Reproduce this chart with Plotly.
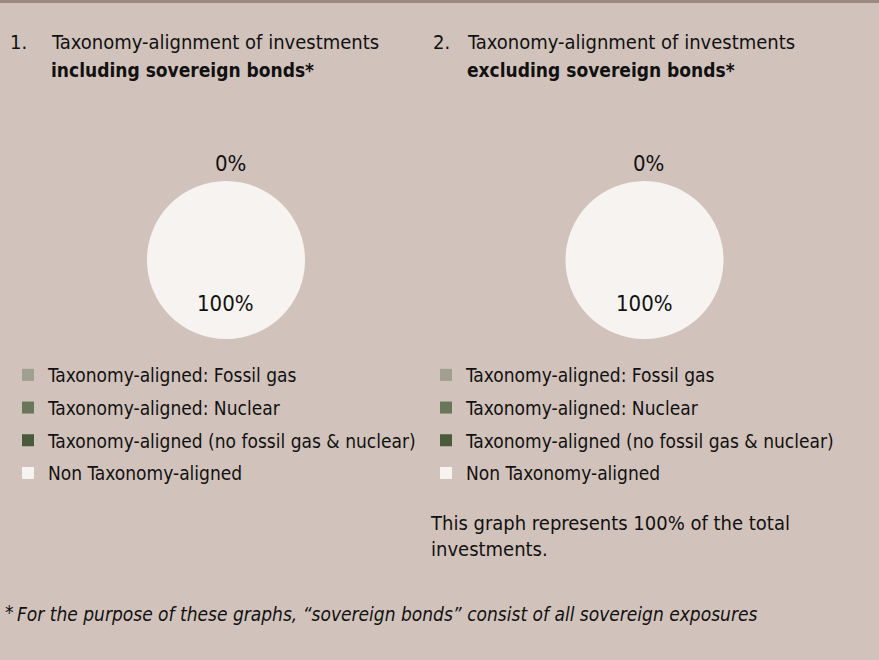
import plotly.graph_objects as go

W, H = 879, 660

# ---------------- data ----------------
categories = [
    "Taxonomy-aligned: Fossil gas",
    "Taxonomy-aligned: Nuclear",
    "Taxonomy-aligned (no fossil gas & nuclear)",
    "Non Taxonomy-aligned",
]
incl_values = [0, 0, 0, 100]   # including sovereign bonds
excl_values = [0, 0, 0, 100]   # excluding sovereign bonds
colors = ["#A09F90", "#6A765A", "#4A5A3A", "#F6F3F0"]

titles_line1 = ["Taxonomy-alignment of investments", "Taxonomy-alignment of investments"]
titles_line2 = ["including sovereign bonds*", "excluding sovereign bonds*"]
note_text = "This graph represents 100% of the total<br>investments."
footnote = "For the purpose of these graphs, \u201csovereign bonds\u201d consist of all sovereign exposures"

FONT = "Liberation Sans Narrow, Arial Narrow, DejaVu Sans Condensed, Roboto, sans-serif"
BG = "#D1C3BB"
TXT = "#111111"


def px(x):
    return x / W


def py(y):
    return 1 - y / H


fig = go.Figure()

# pies: (centre x px, centre y px, radius px)
pie_geo = [(226, 260, 79), (644.5, 260, 79)]
for i, (vals, (cx, cy, r)) in enumerate(zip([incl_values, excl_values], pie_geo)):
    fig.add_trace(go.Pie(
        labels=categories, values=vals, sort=False, direction="clockwise",
        marker=dict(colors=colors, line=dict(width=0)),
        textinfo="none", showlegend=False, hole=0,
        domain=dict(x=[px(cx - r), px(cx + r)], y=[py(cy + r), py(cy - r)]),
        name="incl" if i == 0 else "excl",
    ))
    aligned = sum(vals[:3])
    non = vals[3]
    fig.add_annotation(x=px(cx + 4), y=py(cy - r - 18), xref="paper", yref="paper",
                       xanchor="center", yanchor="middle",
                       text=f"{aligned:g}%", showarrow=False,
                       font=dict(family=FONT, size=22, color=TXT))
    fig.add_annotation(x=px(cx), y=py(cy + 43), xref="paper", yref="paper",
                       xanchor="center", yanchor="middle",
                       text=f"{non:g}%", showarrow=False,
                       font=dict(family=FONT, size=22, color=TXT))

# legends via dummy traces (one group per entry for spacing control)
legend_names = ["legend", "legend2"]
for li, lg in enumerate(legend_names):
    for k, (cat, col) in enumerate(zip(categories, colors)):
        fig.add_trace(go.Scatter(
            x=[None], y=[None], mode="markers", name=cat,
            marker=dict(symbol="square", size=12, color=col, line=dict(width=0)),
            legend=lg, legendgroup=f"{lg}_{k}", showlegend=True,
            hoverinfo="skip",
        ))

legend_common = dict(
    bgcolor="rgba(0,0,0,0)", borderwidth=0,
    font=dict(family=FONT, size=19, color=TXT),
    tracegroupgap=5, itemsizing="trace",
    xanchor="left", yanchor="top", orientation="v",
)
fig.update_layout(
    legend=dict(x=px(8), y=py(356), **legend_common),
    legend2=dict(x=px(426), y=py(356), **legend_common),
)

# titles
col_x = [(8, 49), (431, 465)]
for i, (nx, tx) in enumerate(col_x):
    fig.add_annotation(x=px(nx), y=py(42), xref="paper", yref="paper",
                       xanchor="left", yanchor="middle",
                       text=f"{i + 1}.", showarrow=False,
                       font=dict(family=FONT, size=20, color=TXT))
    fig.add_annotation(x=px(tx), y=py(42), xref="paper", yref="paper",
                       xanchor="left", yanchor="middle",
                       text=titles_line1[i], showarrow=False,
                       font=dict(family=FONT, size=20, color=TXT))
    fig.add_annotation(x=px(tx), y=py(70), xref="paper", yref="paper",
                       xanchor="left", yanchor="middle",
                       text=f"<b>{titles_line2[i]}</b>", showarrow=False,
                       font=dict(family=FONT, size=19, color=TXT))

# note under second legend
fig.add_annotation(x=px(428), y=py(536), xref="paper", yref="paper",
                   xanchor="left", yanchor="middle", align="left",
                   text=note_text, showarrow=False,
                   font=dict(family=FONT, size=20, color=TXT))

# footnote
fig.add_annotation(x=px(3), y=py(612), xref="paper", yref="paper",
                   xanchor="left", yanchor="middle",
                   text="*", showarrow=False, font=dict(family=FONT, size=19, color=TXT))
fig.add_annotation(x=px(15), y=py(614), xref="paper", yref="paper",
                   xanchor="left", yanchor="middle",
                   text=f"<i>{footnote}</i>", showarrow=False,
                   font=dict(family=FONT, size=19, color=TXT))

# top bar
fig.add_shape(type="rect", xref="paper", yref="paper", x0=0, x1=1, y0=py(3), y1=1,
              fillcolor="#9C897E", line=dict(width=0), layer="above")

fig.update_layout(
    width=W, height=H, margin=dict(l=0, r=0, t=0, b=0),
    paper_bgcolor=BG, plot_bgcolor=BG,
    xaxis=dict(visible=False), yaxis=dict(visible=False),
    hovermode=False,
)

fig.write_html(
    "out.html",
    config={"displayModeBar": False},
    post_script="document.body.style.margin='0';document.body.style.overflow='hidden';",
)
